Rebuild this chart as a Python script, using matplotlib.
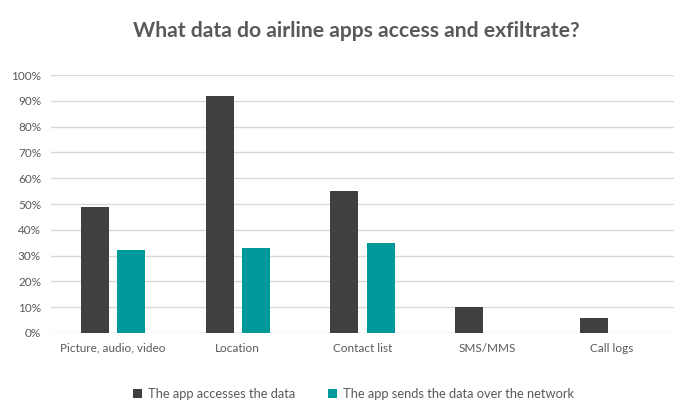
import matplotlib.pyplot as plt
import numpy as np
from matplotlib.ticker import PercentFormatter

categories = ["Picture, audio, video", "Location", "Contact list", "SMS/MMS", "Call logs"]
accesses = [49, 92, 55, 10, 6]
sends = [32, 33, 35, 0, 0]
series_names = ["The app accesses the data", "The app sends the data over the network"]

plt.rcParams["font.family"] = ["Lato", "DejaVu Sans"]
text_col = "#595959"

fig = plt.figure(figsize=(6.81, 4.15), dpi=100)
ax = fig.add_axes([0.0745, 0.1976, 0.9155, 0.6214])

x = np.arange(len(categories))
w = 0.225
ax.bar(x - 0.145, accesses, w, color="#404040", label=series_names[0], zorder=3)
ax.bar(x + 0.145, sends, w, color="#009999", label=series_names[1], zorder=3)

ax.set_xlim(-0.5, len(categories) - 0.5)
ax.set_ylim(0, 100)
ax.set_yticks(np.arange(0, 101, 10))
ax.yaxis.set_major_formatter(PercentFormatter(decimals=0))
ax.set_xticks(x)
ax.set_xticklabels(categories)
ax.grid(axis="y", color="#d9d9d9", linewidth=1, zorder=0)
for s in ax.spines.values():
    s.set_visible(False)
ax.tick_params(length=0, labelsize=8.5, colors=text_col, pad=7)

fig.text(0.523, 0.925, "What data do airline apps access and exfiltrate?",
         ha="center", va="center", fontsize=15.2, fontweight="bold", color=text_col)

fig.legend(loc="center", bbox_to_anchor=(0.519, 0.05), ncol=2, frameon=False,
           fontsize=9.3, labelcolor=text_col, handlelength=0.7, handleheight=0.7,
           handletextpad=0.4, columnspacing=2.6)

fig.savefig("out.png", dpi=100)
